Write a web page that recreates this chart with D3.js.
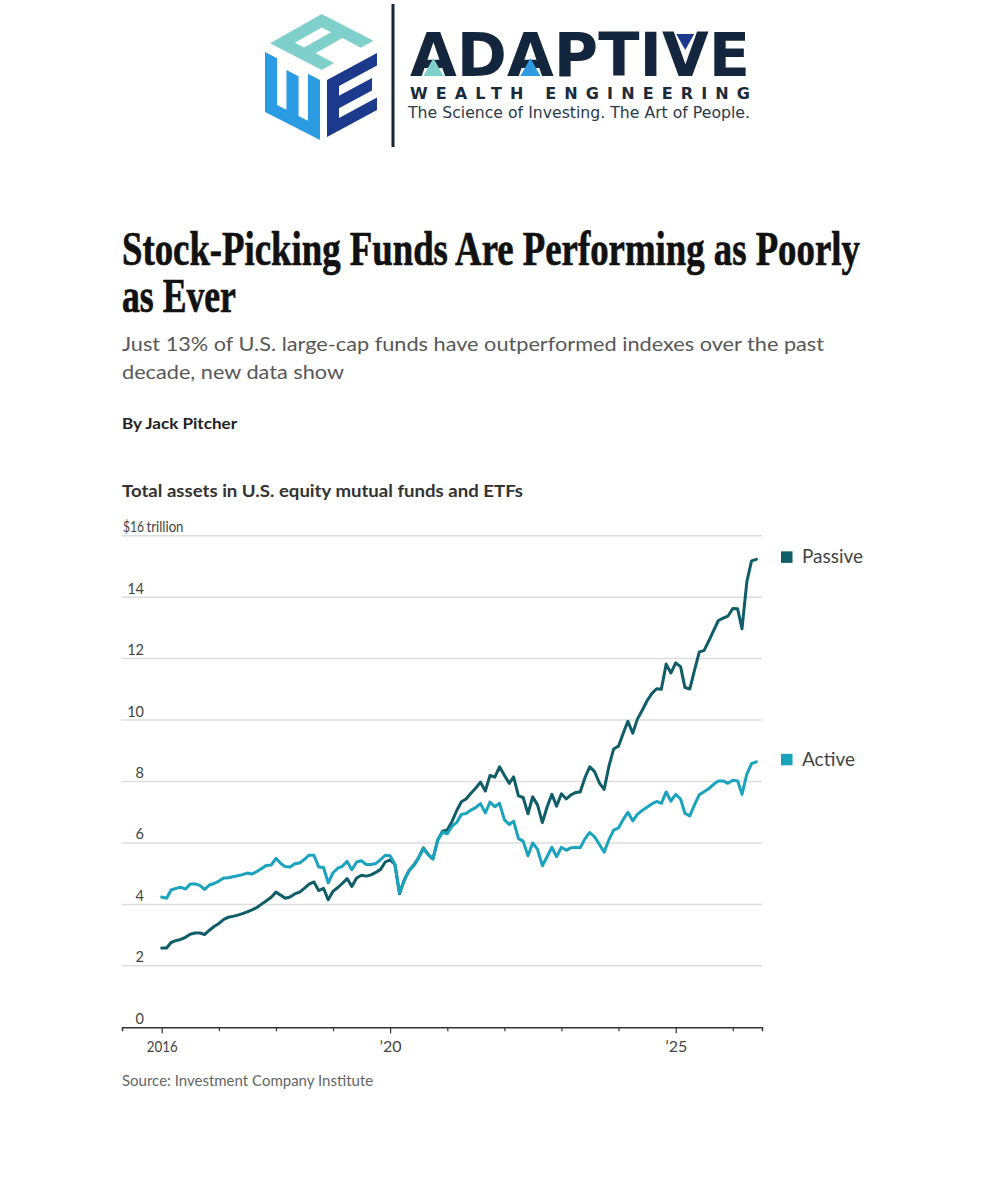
<!DOCTYPE html>
<html>
<head>
<meta charset="utf-8">
<script src="https://cdn.jsdelivr.net/npm/d3@7"></script>
<style>
  body { margin: 0; background: #fff; }
  svg { display: block; }
</style>
</head>
<body>
<svg id="page" width="1000" height="1200"></svg>
<script>
// ---- Data (monthly, Jan 2016 – Jun 2026), $ trillions ----
const passive = [
  2.58, 2.58, 2.76, 2.82, 2.86, 2.93, 3.03, 3.07, 3.07, 3.02, 3.16, 3.28,
  3.38, 3.51, 3.58, 3.61, 3.65, 3.70, 3.76, 3.82, 3.90, 4.01, 4.12, 4.23,
  4.40, 4.30, 4.20, 4.24, 4.34, 4.40, 4.52, 4.66, 4.73, 4.45, 4.52, 4.15,
  4.43, 4.55, 4.68, 4.84, 4.58, 4.86, 4.95, 4.92, 4.96, 5.04, 5.14, 5.38,
  5.45, 5.30, 4.35, 4.80, 5.10, 5.28, 5.52, 5.84, 5.62, 5.48, 6.10, 6.38,
  6.42, 6.71, 7.04, 7.34, 7.43, 7.62, 7.78, 7.98, 7.69, 8.20, 8.14, 8.48,
  8.20, 7.94, 8.15, 7.53, 7.48, 6.95, 7.50, 7.24, 6.66, 7.17, 7.58, 7.20,
  7.60, 7.43, 7.56, 7.64, 7.66, 8.13, 8.48, 8.32, 7.95, 7.74, 8.50, 9.06,
  9.15, 9.58, 9.96, 9.57, 10.03, 10.32, 10.62, 10.86, 11.02, 11.00, 11.82, 11.53,
  11.86, 11.74, 11.06, 11.01, 11.62, 12.22, 12.26, 12.58, 12.92, 13.24, 13.32, 13.38,
  13.63, 13.62, 12.97, 14.50, 15.18, 15.23
];
const active = [
  4.24, 4.20, 4.47, 4.52, 4.56, 4.50, 4.66, 4.67, 4.62, 4.49, 4.63, 4.68,
  4.76, 4.86, 4.87, 4.90, 4.93, 4.97, 5.02, 4.99, 5.07, 5.17, 5.27, 5.28,
  5.50, 5.33, 5.23, 5.22, 5.32, 5.35, 5.46, 5.60, 5.60, 5.22, 5.20, 4.70,
  5.03, 5.18, 5.24, 5.40, 5.13, 5.38, 5.42, 5.30, 5.30, 5.33, 5.46, 5.60,
  5.58, 5.30, 4.37, 4.78, 5.10, 5.26, 5.50, 5.82, 5.62, 5.48, 6.10, 6.35,
  6.30, 6.55, 6.66, 6.93, 6.96, 7.07, 7.15, 7.28, 6.98, 7.33, 7.18, 7.29,
  6.76, 6.60, 6.71, 6.14, 6.06, 5.58, 6.00, 5.79, 5.26, 5.55, 5.86, 5.55,
  5.86, 5.76, 5.84, 5.86, 5.84, 6.14, 6.34, 6.20, 5.95, 5.70, 6.11, 6.42,
  6.49, 6.77, 7.00, 6.72, 6.93, 7.06, 7.16, 7.27, 7.35, 7.29, 7.66, 7.36,
  7.58, 7.43, 6.96, 6.88, 7.24, 7.57, 7.67, 7.77, 7.91, 8.02, 8.02, 7.94,
  8.04, 8.02, 7.58, 8.24, 8.58, 8.64
];
const months = d3.timeMonth.range(new Date(2016, 0, 1), new Date(2026, 6, 1));
const seriesNames = ['Passive', 'Active'];
const seriesColors = ['#0e5d68', '#19a3bd'];
const yTicks = [0, 2, 4, 6, 8, 10, 12, 14, 16];
const tickYears = [2016, 2017, 2018, 2019, 2020, 2021, 2022, 2023, 2024, 2025, 2026];
const yearLabels = { 2016: '2016', 2020: '\u201920', 2025: '\u201925' };

const svg = d3.select('#page');
const SANS = 'Lato, "Noto Sans", sans-serif';

// squeeze a text horizontally to a given width (keeps its box honest, unlike textLength)
function fitWidth(sel, x, y, width) {
  const natural = sel.node().getComputedTextLength();
  sel.attr('x', 0).attr('y', 0)
    .attr('transform', `translate(${x},${y}) scale(${width / natural},1)`);
  return sel;
}

// ---- Logo ----
function drawLogo() {
  const g = svg.append('g').attr('class', 'logo');
  // cube faces, letters drawn in a 0-100 box and sheared onto each face
  g.append('path')
    .attr('transform', 'matrix(0.517,-0.293,0.517,0.267,270,43.3)')
    .attr('fill-rule', 'evenodd')
    .attr('d', 'M0,100 V0 H100 V100 H76 V64 H24 V100 Z M24,24 H76 V42 H24 Z')
    .attr('fill', '#7fd0cb');
  g.append('path')
    .attr('transform', 'matrix(0.55,0.28,0,0.6,265,52)')
    .attr('d', 'M0,0 H22 V78 H39 V12 H61 V78 H78 V0 H100 V100 H0 Z')
    .attr('fill', '#2b9be3');
  g.append('path')
    .attr('transform', 'matrix(0.5,-0.27,0,0.57,327,80)')
    .attr('d', 'M0,0 H100 V22 H24 V39 H90 V61 H24 V78 H100 V100 H0 Z')
    .attr('fill', '#1b3a8c');

  g.append('line')
    .attr('x1', 393).attr('x2', 393).attr('y1', 4).attr('y2', 147)
    .attr('stroke', '#14263b').attr('stroke-width', 3);

  const word = g.append('text')
    .attr('x', 410).attr('y', 76)
    .attr('font-family', '"DejaVu Sans", sans-serif')
    .attr('font-weight', 700).attr('font-size', 60)
    .attr('textLength', 340).attr('lengthAdjust', 'spacingAndGlyphs')
    .attr('fill', '#13263d')
    .text('ADAPTIVE');

  // coloured counters in the two A's and the V
  const node = word.node();
  const marks = [[0, '#7fd0cb', 'up'], [2, '#2e9be0', 'up'], [6, '#1b3a8c', 'down']];
  marks.forEach(([i, color, dir]) => {
    const b = node.getExtentOfChar(i);
    const cx = b.x + b.width / 2;
    const pts = dir === 'up'
      ? [[cx - 10, 76], [cx + 10, 76], [cx, 58]]
      : [[cx - 9, 34], [cx + 9, 34], [cx, 50]];
    g.append('polygon')
      .attr('points', pts.map(p => p.join(',')).join(' '))
      .attr('fill', color);
  });

  g.append('text')
    .attr('x', 410).attr('y', 98.5)
    .attr('font-family', '"DejaVu Sans", sans-serif')
    .attr('font-weight', 700).attr('font-size', 16)
    .attr('textLength', 340).attr('lengthAdjust', 'spacing')
    .attr('fill', '#1b2b3c')
    .text('WEALTH ENGINEERING');

  g.append('text')
    .attr('x', 408).attr('y', 118)
    .attr('font-family', '"DejaVu Sans", sans-serif')
    .attr('font-size', 15.5)
    .attr('textLength', 342).attr('lengthAdjust', 'spacingAndGlyphs')
    .attr('fill', '#2b3b4b')
    .text('The Science of Investing. The Art of People.');
}

// ---- Headline block ----
function drawHeader() {
  const serif = '"Liberation Serif", "DejaVu Serif", serif';
  [['Stock-Picking Funds Are Performing as Poorly', 265, 738], ['as Ever', 312, 114]]
    .forEach(([txt, yPos, len]) => {
      const t = svg.append('text')
        .attr('font-family', serif).attr('font-weight', 700).attr('font-size', 48)
        .attr('fill', '#111').attr('stroke', '#111').attr('stroke-width', 0.7)
        .text(txt);
      fitWidth(t, 122, yPos, len);
    });

  svg.append('text')
    .attr('x', 122).attr('y', 351)
    .attr('font-family', SANS).attr('font-size', 20)
    .attr('textLength', 702).attr('lengthAdjust', 'spacingAndGlyphs')
    .attr('fill', '#585858')
    .text('Just 13% of U.S. large-cap funds have outperformed indexes over the past');
  svg.append('text')
    .attr('x', 122).attr('y', 379)
    .attr('font-family', SANS).attr('font-size', 20)
    .attr('textLength', 222).attr('lengthAdjust', 'spacingAndGlyphs')
    .attr('fill', '#585858')
    .text('decade, new data show');

  svg.append('text')
    .attr('x', 122).attr('y', 429)
    .attr('font-family', SANS).attr('font-weight', 700).attr('font-size', 16)
    .attr('textLength', 115).attr('lengthAdjust', 'spacingAndGlyphs')
    .attr('fill', '#222')
    .text('By Jack Pitcher');

  svg.append('text')
    .attr('x', 122).attr('y', 497)
    .attr('font-family', SANS).attr('font-weight', 700).attr('font-size', 17)
    .attr('textLength', 401).attr('lengthAdjust', 'spacingAndGlyphs')
    .attr('fill', '#333')
    .text('Total assets in U.S. equity mutual funds and ETFs');
}

// ---- Chart ----
function drawChart() {
  const x = d3.scaleTime()
    .domain([new Date(2015, 3, 22), new Date(2026, 6, 7)])
    .range([122, 762]);
  const y = d3.scaleLinear().domain([0, 16]).range([1027.3, 535.7]);

  const chart = svg.append('g').attr('class', 'chart');

  // gridlines
  chart.append('g').selectAll('line')
    .data(yTicks.filter(d => d > 0))
    .join('line')
    .attr('x1', 122).attr('x2', 762)
    .attr('y1', d => y(d)).attr('y2', d => y(d))
    .attr('stroke', '#dddddd').attr('stroke-width', 1.5);

  // y labels (right-aligned, sitting on the gridline)
  const yAxis = chart.append('g')
    .attr('transform', 'translate(144,0)')
    .call(d3.axisLeft(y).tickValues(yTicks).tickSize(0).tickPadding(0)
      .tickFormat(d => d === 16 ? '$16' : d));
  yAxis.select('.domain').remove();
  yAxis.selectAll('text')
    .attr('dy', null).attr('y', -4)
    .attr('font-family', SANS).attr('font-size', 14.5).attr('fill', '#444');
  yAxis.selectAll('.tick text').filter(d => d === 16)
    .attr('textLength', 21).attr('lengthAdjust', 'spacingAndGlyphs');
  yAxis.append('text')
    .attr('x', 2.5).attr('y', y(16) - 4)
    .attr('font-family', SANS).attr('font-size', 14.5).attr('fill', '#444')
    .attr('textLength', 37).attr('lengthAdjust', 'spacingAndGlyphs')
    .attr('text-anchor', 'start')
    .text('trillion');

  // x axis
  const xAxis = chart.append('g')
    .attr('transform', `translate(0,${y(0)})`)
    .call(d3.axisBottom(x)
      .tickValues(tickYears.map(yr => new Date(yr, 0, 1)))
      .tickSizeOuter(0).tickSize(4)
      .tickFormat(d => yearLabels[d.getFullYear()] || ''));
  xAxis.select('.domain').attr('stroke', '#333').attr('stroke-width', 1.5);
  xAxis.selectAll('.tick line')
    .attr('stroke', '#333').attr('stroke-width', 1.2)
    .attr('y2', d => yearLabels[d.getFullYear()] ? 6 : 4);
  xAxis.selectAll('.tick text')
    .attr('dy', null).attr('y', 25)
    .attr('font-family', SANS).attr('font-size', 16).attr('fill', '#444');
  xAxis.selectAll('.tick text').filter(d => d.getFullYear() === 2016)
    .attr('textLength', 31).attr('lengthAdjust', 'spacingAndGlyphs');

  // lines
  const series = [passive, active].map((vals, i) => ({
    name: seriesNames[i],
    color: seriesColors[i],
    values: vals.map((v, j) => ({ date: months[j], value: v }))
  }));
  const line = d3.line().x(d => x(d.date)).y(d => y(d.value));

  chart.append('g').selectAll('path')
    .data(series)
    .join('path')
    .attr('d', d => line(d.values))
    .attr('fill', 'none')
    .attr('stroke', d => d.color)
    .attr('stroke-width', 3)
    .attr('stroke-linejoin', 'round')
    .attr('stroke-linecap', 'round');

  // legend beside the line ends
  const legend = chart.append('g').selectAll('g')
    .data(series)
    .join('g')
    .attr('transform', d => `translate(781,${y(d.values[d.values.length - 1].value) - 2})`);
  legend.append('rect')
    .attr('x', 0).attr('y', -6).attr('width', 11.5).attr('height', 11.5)
    .attr('fill', d => d.color);
  legend.append('text')
    .attr('x', 21).attr('y', 6)
    .attr('font-family', SANS).attr('font-size', 19).attr('fill', '#444')
    .text(d => d.name);

  svg.append('text')
    .attr('x', 122).attr('y', 1086)
    .attr('font-family', SANS).attr('font-size', 15).attr('fill', '#666')
    .text('Source: Investment Company Institute');
}

drawLogo();
drawHeader();
drawChart();
</script>
</body>
</html>
